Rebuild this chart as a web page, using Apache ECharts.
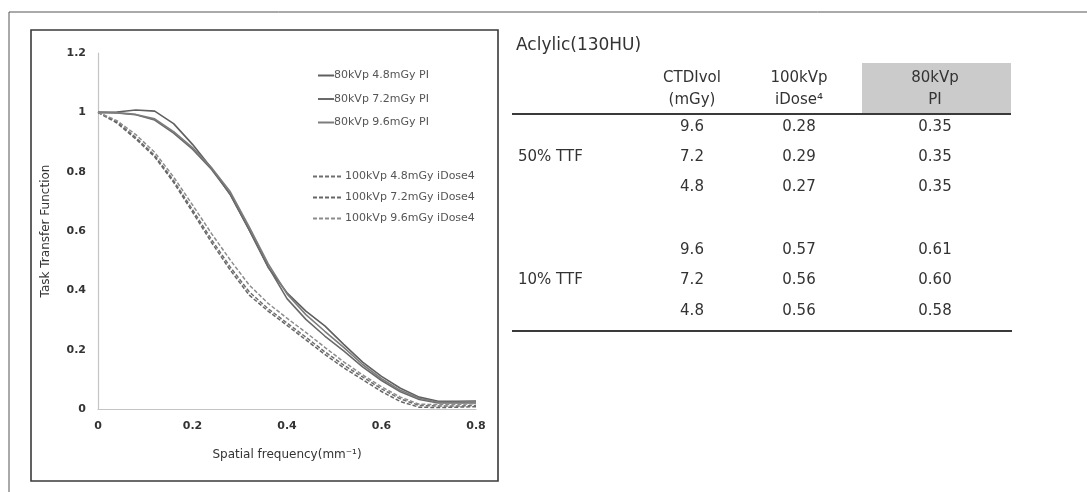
<!DOCTYPE html>
<html>
<head>
<meta charset="utf-8">
<script src="https://cdn.jsdelivr.net/npm/echarts@6/dist/echarts.min.js"></script>
<style>
  html, body { margin: 0; padding: 0; background: #ffffff; }
  #chart { width: 1087px; height: 492px; }
</style>
</head>
<body>
<div id="chart"></div>
<script>
// Spatial frequency sample points (mm^-1)
const freq = [0.00, 0.04, 0.08, 0.12, 0.16, 0.20, 0.24, 0.28, 0.32, 0.36, 0.40,
              0.44, 0.48, 0.52, 0.56, 0.60, 0.64, 0.68, 0.72, 0.76, 0.80];

// Task transfer function, 80 kVp with PI
const pi48 = [1.000, 1.001, 1.008, 1.004, 0.962, 0.892, 0.812, 0.722, 0.604, 0.478, 0.392,
              0.330, 0.280, 0.218, 0.158, 0.110, 0.070, 0.040, 0.026, 0.026, 0.027];
const pi72 = [1.000, 0.998, 0.992, 0.974, 0.930, 0.876, 0.808, 0.724, 0.604, 0.480, 0.372,
              0.302, 0.246, 0.196, 0.142, 0.096, 0.058, 0.032, 0.020, 0.020, 0.020];
const pi96 = [1.000, 0.999, 0.993, 0.978, 0.935, 0.881, 0.814, 0.732, 0.614, 0.490, 0.388,
              0.318, 0.262, 0.208, 0.150, 0.102, 0.063, 0.036, 0.023, 0.023, 0.024];

// Task transfer function, 100 kVp with iDose4
const id48 = [1.000, 0.968, 0.915, 0.855, 0.770, 0.672, 0.572, 0.478, 0.395, 0.338, 0.290,
              0.242, 0.193, 0.148, 0.108, 0.068, 0.034, 0.012, 0.010, 0.010, 0.012];
const id72 = [1.000, 0.964, 0.910, 0.850, 0.764, 0.664, 0.562, 0.468, 0.384, 0.330, 0.282,
              0.233, 0.184, 0.139, 0.099, 0.059, 0.025, 0.006, 0.005, 0.006, 0.008];
const id96 = [1.000, 0.972, 0.925, 0.865, 0.782, 0.688, 0.592, 0.502, 0.418, 0.356, 0.306,
              0.258, 0.208, 0.159, 0.115, 0.075, 0.040, 0.016, 0.015, 0.015, 0.018];

const piNames = ['80kVp 4.8mGy PI', '80kVp 7.2mGy PI', '80kVp 9.6mGy PI'];
const idNames = ['100kVp 4.8mGy iDose4', '100kVp 7.2mGy iDose4', '100kVp 9.6mGy iDose4'];

// Summary table
const tableTitle = 'Aclylic(130HU)';
const headerTop = ['CTDIvol', '100kVp', '80kVp'];
const headerBottom = ['(mGy)', 'iDose\u2074', 'PI'];
const groupLabels = ['50% TTF', '10% TTF'];
const ctdiLevels = ['9.6', '7.2', '4.8'];
const ttfIdose = [[0.28, 0.29, 0.27], [0.57, 0.56, 0.56]];
const ttfPi = [[0.35, 0.35, 0.35], [0.61, 0.60, 0.58]];

const FONT = '"DejaVu Sans", Verdana, sans-serif';
const TXT = '#333333';

function pairs(ys) { return freq.map((x, i) => [x, ys[i]]); }

const piColors = ['#5f5f5f', '#6a6a6a', '#7c7c7c'];
const idColors = ['#6e6e6e', '#666666', '#8c8c8c'];

const series = [];
[pi48, pi72, pi96].forEach((d, i) => series.push({
  name: piNames[i], type: 'line', data: pairs(d), symbol: 'none', smooth: false,
  lineStyle: { color: piColors[i], width: 1.6, type: 'solid' },
  itemStyle: { color: piColors[i] }
}));
[id48, id72, id96].forEach((d, i) => series.push({
  name: idNames[i], type: 'line', data: pairs(d), symbol: 'none', smooth: false,
  lineStyle: { color: idColors[i], width: 1.5, type: [4, 2] },
  itemStyle: { color: idColors[i] }
}));

// ---- table graphics ----
const colX = [692, 799, 935];
const rowY = [[127, 157, 187], [250, 280, 311]];
const g = [];
// outer frame
g.push({ type: 'line', shape: { x1: 9, y1: 12, x2: 1087, y2: 12 }, style: { stroke: '#555', lineWidth: 1 } });
g.push({ type: 'line', shape: { x1: 9, y1: 12, x2: 9, y2: 492 }, style: { stroke: '#555', lineWidth: 1 } });
// chart box
g.push({ type: 'rect', shape: { x: 31, y: 30, width: 467, height: 451 },
  style: { fill: 'none', stroke: '#3a3a3a', lineWidth: 1.6 } });
// table title
g.push({ type: 'text', x: 516, y: 46, style: { text: tableTitle, font: '17px ' + FONT, fill: TXT, textVerticalAlign: 'middle' } });
// shaded header cell
g.push({ type: 'rect', shape: { x: 862, y: 63, width: 149, height: 50 }, style: { fill: '#cbcbcb' } });
headerTop.forEach((t, i) => {
  g.push({ type: 'text', x: colX[i], y: 78, style: { text: t, font: '15px ' + FONT, fill: TXT, textAlign: 'center', textVerticalAlign: 'middle' } });
  g.push({ type: 'text', x: colX[i], y: 100, style: { text: headerBottom[i], font: '15px ' + FONT, fill: TXT, textAlign: 'center', textVerticalAlign: 'middle' } });
});
g.push({ type: 'line', shape: { x1: 512, y1: 114, x2: 1011, y2: 114 }, style: { stroke: '#3a3a3a', lineWidth: 2 } });
groupLabels.forEach((lab, gi) => {
  g.push({ type: 'text', x: 518, y: rowY[gi][1], style: { text: lab, font: '15px ' + FONT, fill: TXT, textVerticalAlign: 'middle' } });
  ctdiLevels.forEach((c, ri) => {
    const y = rowY[gi][ri];
    g.push({ type: 'text', x: colX[0], y: y, style: { text: c, font: '15px ' + FONT, fill: TXT, textAlign: 'center', textVerticalAlign: 'middle' } });
    g.push({ type: 'text', x: colX[1], y: y, style: { text: ttfIdose[gi][ri].toFixed(2), font: '15px ' + FONT, fill: TXT, textAlign: 'center', textVerticalAlign: 'middle' } });
    g.push({ type: 'text', x: colX[2], y: y, style: { text: ttfPi[gi][ri].toFixed(2), font: '15px ' + FONT, fill: TXT, textAlign: 'center', textVerticalAlign: 'middle' } });
  });
});
g.push({ type: 'line', shape: { x1: 512, y1: 331, x2: 1012, y2: 331 }, style: { stroke: '#3a3a3a', lineWidth: 2 } });

const chart = echarts.init(document.getElementById('chart'), null, { renderer: 'canvas' });
chart.setOption({
  backgroundColor: '#ffffff',
  animation: false,
  textStyle: { fontFamily: FONT },
  grid: { left: 98, right: 611, top: 53, bottom: 83, containLabel: false },
  legend: [
    {
      data: piNames, orient: 'vertical', left: 312, top: 65,
      itemWidth: 16, itemHeight: 12, itemGap: 12.5,
      itemStyle: { opacity: 0 },
      textStyle: { fontSize: 11, color: '#555', fontFamily: FONT, padding: [0, 0, 0, -5] }
    },
    {
      data: idNames, orient: 'vertical', left: 307, top: 166,
      itemWidth: 30, itemHeight: 12, itemGap: 10,
      itemStyle: { opacity: 0 },
      textStyle: { fontSize: 11, color: '#555', fontFamily: FONT, padding: [0, 0, 0, -3] }
    }
  ],
  xAxis: {
    type: 'value', min: 0, max: 0.8, interval: 0.2,
    name: 'Spatial frequency(mm\u207B\u00B9)', nameLocation: 'middle', nameGap: 40,
    nameTextStyle: { fontSize: 12, color: TXT, fontFamily: FONT },
    axisLine: { show: true, lineStyle: { color: '#c4c4c4', width: 1.2 } },
    axisTick: { show: false },
    splitLine: { show: false },
    axisLabel: { fontSize: 11, fontWeight: 'bold', color: '#333', margin: 12, fontFamily: FONT,
      formatter: v => String(+v.toFixed(1)) }
  },
  yAxis: {
    type: 'value', min: 0, max: 1.2, interval: 0.2,
    name: 'Task Transfer Function', nameLocation: 'middle', nameGap: 46, nameRotate: 90,
    nameTextStyle: { fontSize: 12, color: TXT, fontFamily: FONT },
    axisLine: { show: true, lineStyle: { color: '#c4c4c4', width: 1.2 } },
    axisTick: { show: false },
    splitLine: { show: false },
    axisLabel: { fontSize: 11, fontWeight: 'bold', color: '#333', margin: 12, fontFamily: FONT,
      formatter: v => String(+v.toFixed(1)) }
  },
  series: series,
  graphic: g
});
</script>
</body>
</html>
